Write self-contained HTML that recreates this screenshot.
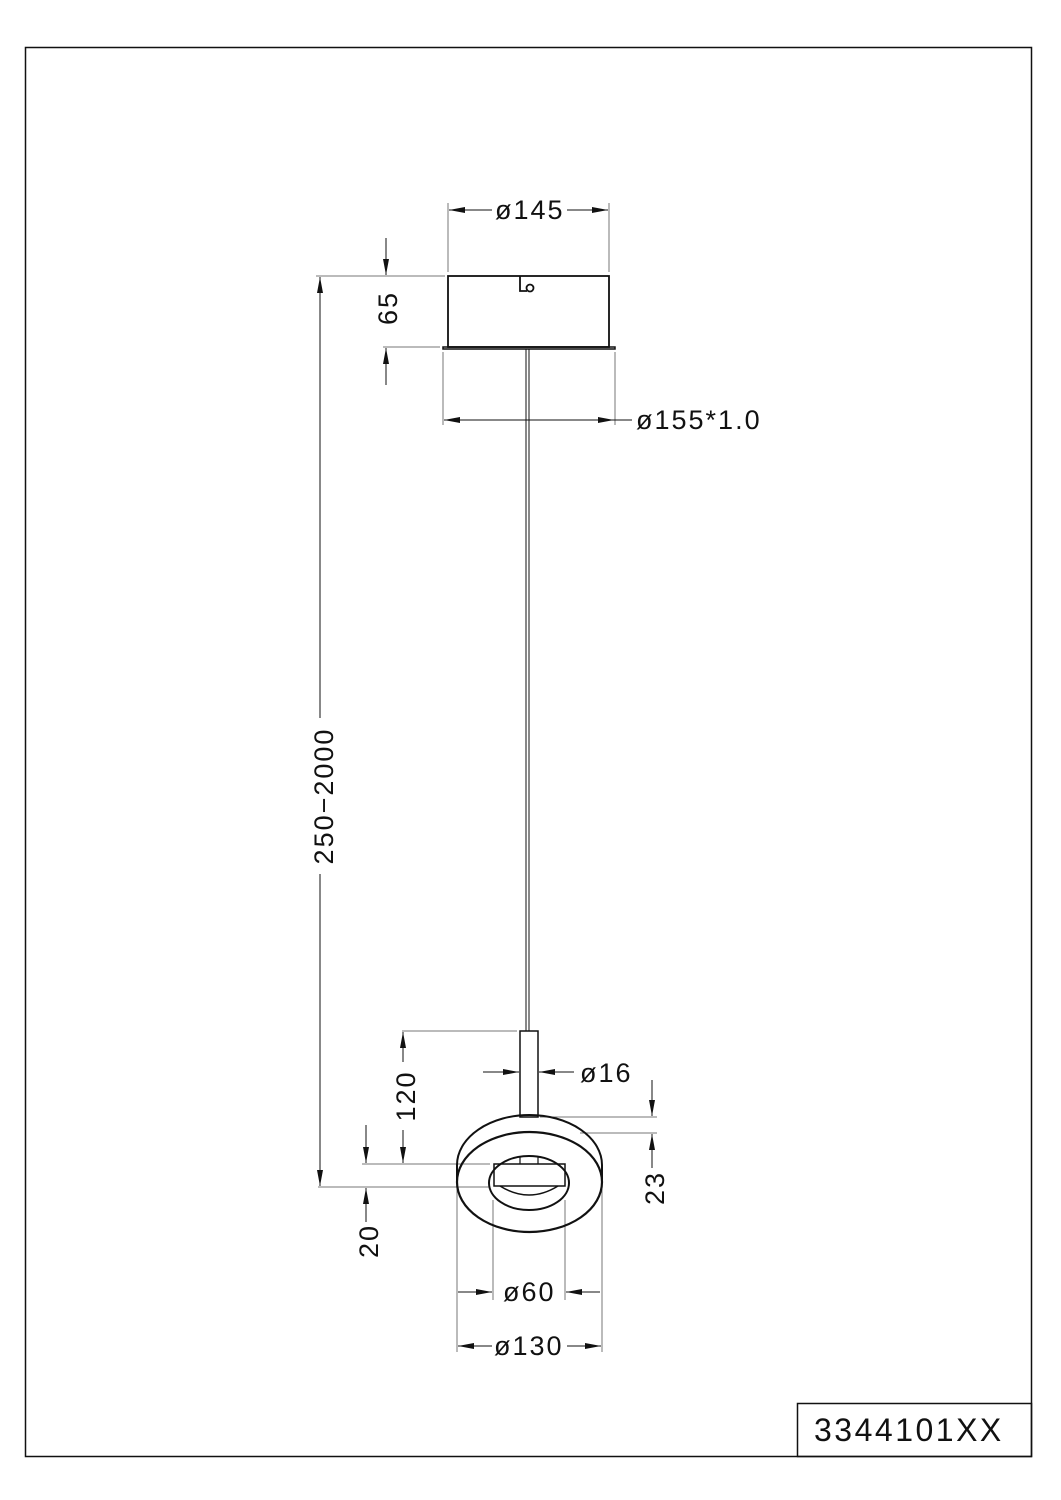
<!DOCTYPE html>
<html><head><meta charset="utf-8"><style>
html,body{margin:0;padding:0;background:#fff;}
svg{display:block;}
text{font-family:"Liberation Sans",sans-serif;fill:#111;font-size:27px;letter-spacing:2px;}
</style></head><body>
<svg width="1061" height="1500" viewBox="0 0 1061 1500" xmlns="http://www.w3.org/2000/svg">
<defs>
<marker id="a" viewBox="0 0 16 6" refX="16" refY="3" markerWidth="16" markerHeight="6" markerUnits="userSpaceOnUse" orient="auto"><path d="M0,0 L16,3 L0,6 z" fill="#111"/></marker>
</defs>
<rect x="25.5" y="47.5" width="1006" height="1409" fill="none" stroke="#111" stroke-width="1.5"/>
<rect x="797.5" y="1403.5" width="234" height="53" fill="none" stroke="#111" stroke-width="1.5"/>
<text x="814" y="1441" style="font-size:32px;letter-spacing:2.5px">3344101XX</text>

<g stroke="#777" stroke-width="1" fill="none">
<line x1="448" y1="203" x2="448" y2="272"/><line x1="609" y1="203" x2="609" y2="272"/>
<line x1="443" y1="352" x2="443" y2="425"/><line x1="615" y1="352" x2="615" y2="425"/>
<line x1="316" y1="276" x2="445" y2="276"/><line x1="383" y1="347" x2="440" y2="347"/>
<line x1="402" y1="1031" x2="517" y2="1031"/>
<line x1="362" y1="1164" x2="490" y2="1164"/>
<line x1="318" y1="1187" x2="490" y2="1187"/>
<line x1="540" y1="1117" x2="657" y2="1117"/>
<line x1="580" y1="1133" x2="657" y2="1133"/>
<line x1="457" y1="1185" x2="457" y2="1352"/><line x1="602" y1="1185" x2="602" y2="1352"/>
<line x1="493" y1="1200" x2="493" y2="1300"/><line x1="565" y1="1200" x2="565" y2="1300"/>
</g>

<g stroke="#111" stroke-width="1" fill="none">
<line x1="492" y1="210" x2="449" y2="210" marker-end="url(#a)"/>
<line x1="567" y1="210" x2="608" y2="210" marker-end="url(#a)"/>
<line x1="386" y1="238" x2="386" y2="275" marker-end="url(#a)"/>
<line x1="386" y1="385" x2="386" y2="348" marker-end="url(#a)"/>
<line x1="530" y1="420" x2="444" y2="420" marker-end="url(#a)"/>
<line x1="530" y1="420" x2="614" y2="420" marker-end="url(#a)"/>
<line x1="614" y1="420" x2="632" y2="420"/>
<line x1="320" y1="718" x2="320" y2="277" marker-end="url(#a)"/>
<line x1="320" y1="874" x2="320" y2="1186" marker-end="url(#a)"/>
<line x1="403" y1="1062" x2="403" y2="1032" marker-end="url(#a)"/>
<line x1="403" y1="1130" x2="403" y2="1163" marker-end="url(#a)"/>
<line x1="366" y1="1125" x2="366" y2="1163" marker-end="url(#a)"/>
<line x1="366" y1="1222" x2="366" y2="1188" marker-end="url(#a)"/>
<line x1="483" y1="1072" x2="519" y2="1072" marker-end="url(#a)"/>
<line x1="574" y1="1072" x2="539" y2="1072" marker-end="url(#a)"/>
<line x1="652" y1="1080" x2="652" y2="1116" marker-end="url(#a)"/>
<line x1="652" y1="1168" x2="652" y2="1134" marker-end="url(#a)"/>
<line x1="458" y1="1292" x2="492" y2="1292" marker-end="url(#a)"/>
<line x1="600" y1="1292" x2="566" y2="1292" marker-end="url(#a)"/>
<line x1="492" y1="1346" x2="458" y2="1346" marker-end="url(#a)"/>
<line x1="567" y1="1346" x2="601" y2="1346" marker-end="url(#a)"/>
</g>

<g stroke="#111" fill="none">
<rect x="448" y="276" width="161" height="71" stroke-width="1.8"/>
<rect x="443" y="347" width="172" height="2" stroke-width="1.5"/>
<path d="M520,276 V291 H527" stroke-width="1.8"/>
<circle cx="530" cy="288" r="3.5" stroke-width="1.8"/>
<line x1="526" y1="349" x2="526" y2="1031" stroke-width="1"/>
<line x1="529" y1="349" x2="529" y2="1031" stroke-width="1"/>
<rect x="520" y="1031" width="18" height="86" stroke-width="1.5"/>
<path d="M457,1165 A72.5,50 0 0 1 602,1165" stroke-width="2"/>
<line x1="457" y1="1165" x2="457" y2="1182" stroke-width="2"/>
<line x1="602" y1="1165" x2="602" y2="1182" stroke-width="2"/>
<ellipse cx="529.5" cy="1182" rx="72.5" ry="50" stroke-width="2.2"/>
<ellipse cx="529" cy="1183" rx="40" ry="27" stroke-width="2"/>
<rect x="494" y="1164" width="71" height="22" stroke-width="1.5"/>
<line x1="520" y1="1156" x2="520" y2="1164" stroke-width="1.2"/>
<line x1="538" y1="1156" x2="538" y2="1164" stroke-width="1.2"/>
<path d="M500,1186 Q529,1204 558,1186" stroke-width="1.5"/>
</g>

<text x="495" y="219">ø145</text>
<text x="636" y="429">ø155*1.0</text>
<text x="580" y="1082">ø16</text>
<text x="503" y="1301">ø60</text>
<text x="494" y="1355">ø130</text>
<text transform="translate(397,308) rotate(-90)" text-anchor="middle">65</text>
<text transform="translate(333,796) rotate(-90)" text-anchor="middle">250−2000</text>
<text transform="translate(415,1096) rotate(-90)" text-anchor="middle">120</text>
<text transform="translate(378,1241) rotate(-90)" text-anchor="middle">20</text>
<text transform="translate(664,1188) rotate(-90)" text-anchor="middle">23</text>
</svg>
</body></html>
